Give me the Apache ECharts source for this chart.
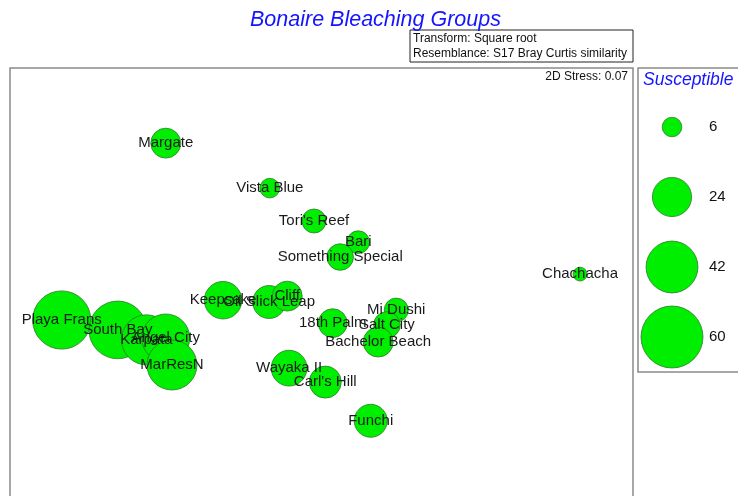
<!DOCTYPE html>
<html>
<head>
<meta charset="utf-8">
<style>
  html, body { margin: 0; padding: 0; background: #fff; }
  #chart { width: 738px; height: 496px; }
</style>
<script src="https://cdn.jsdelivr.net/npm/echarts@6/dist/echarts.min.js"></script>
</head>
<body>
<div id="chart"></div>
<script>
// MDS ordination, coordinates (0-100 frame units, y up)
const sites = ['Margate', 'Vista Blue', "Tori's Reef", 'Bari', 'Something Special', 'Chachacha',
  'Keepsake', 'Oil Slick Leap', 'Cliff', 'Playa Frans', 'South Bay', 'Karpata', 'Angel City',
  'MarResN', 'Wayaka II', "Carl's Hill", '18th Palm', 'Mi Dushi', 'Salt City', 'Bachelor Beach', 'Funchi'];
const mdsX = [25.0, 41.7, 48.8, 55.9, 53.0, 91.5, 34.2, 41.6, 44.5, 8.3, 17.3, 21.9, 25.0,
  26.0, 44.8, 50.6, 51.8, 62.0, 60.5, 59.1, 57.9];
const mdsY = [83.3, 73.3, 66.0, 61.3, 58.0, 54.2, 48.4, 48.0, 49.3, 44.0, 41.8, 39.6, 40.0,
  34.0, 33.3, 30.2, 43.3, 46.2, 42.9, 39.1, 21.6];
const susceptible = [14, 6, 9, 8, 11, 3, 22, 17, 14, 53, 52, 39, 36, 39, 20, 16, 13, 9, 11, 14, 17];

const legendValues = [6, 24, 42, 60];

const FONT = '"Liberation Sans", Arial, sans-serif';
const FILL = '#00ee00';
const EDGE = '#2f7a2f';
const FRAME = '#8a8a8a';
const bubble = v => Math.sqrt(v) * 8;

const points = sites.map((s, i) => [mdsX[i], mdsY[i], susceptible[i], s]);
// legend rows spaced evenly down the key box
const legendPts = legendValues.map((v, i) => [34, 59 + i * 70, v]);
const legendLbl = legendValues.map((v, i) => [71, 59 + i * 70, v]);

const chart = echarts.init(document.getElementById('chart'));
chart.setOption({
  animation: false,
  backgroundColor: '#fff',
  title: {
    text: 'Bonaire Bleaching Groups',
    left: 245,
    top: 4,
    textStyle: { color: '#1414ff', fontStyle: 'italic', fontWeight: 'normal', fontSize: 21.5, fontFamily: FONT }
  },
  grid: [
    // plot frame runs off the bottom of the picture
    { left: 10, top: 68, width: 623, height: 428, show: false },
    { left: 638, top: 68, width: 100, height: 304, show: false }
  ],
  xAxis: [
    { gridIndex: 0, type: 'value', min: 0, max: 100, show: false },
    { gridIndex: 1, type: 'value', min: 0, max: 100, show: false }
  ],
  yAxis: [
    { gridIndex: 0, type: 'value', min: 100 - 428 / 4.5, max: 100, show: false },
    { gridIndex: 1, type: 'value', min: 0, max: 304, inverse: true, show: false }
  ],
  graphic: [
    {
      type: 'rect', z: 0,
      shape: { x: 10, y: 68, width: 623, height: 460 },
      style: { fill: 'none', stroke: FRAME, lineWidth: 1.5 }
    },
    {
      type: 'rect', z: 0,
      shape: { x: 638, y: 68, width: 120, height: 304 },
      style: { fill: 'none', stroke: FRAME, lineWidth: 1.5 }
    },
    {
      type: 'rect',
      shape: { x: 410, y: 30, width: 223, height: 32 },
      style: { fill: '#fff', stroke: '#222', lineWidth: 1 }
    },
    {
      type: 'text', left: 413, top: 33,
      style: { text: 'Transform: Square root', fill: '#111', fontSize: 12, fontFamily: FONT }
    },
    {
      type: 'text', left: 413, top: 48,
      style: { text: 'Resemblance: S17 Bray Curtis similarity', fill: '#111', fontSize: 12, fontFamily: FONT }
    },
    {
      type: 'text', right: 110, top: 71,
      style: { text: '2D Stress: 0.07', fill: '#111', fontSize: 12, fontFamily: FONT }
    },
    {
      type: 'text', left: 643, top: 71, z: 10,
      style: { text: 'Susceptible', fill: '#1414ff', fontSize: 17.5, fontStyle: 'italic', fontFamily: FONT }
    }
  ],
  series: [
    {
      type: 'scatter',
      xAxisIndex: 0, yAxisIndex: 0,
      data: points,
      symbolSize: d => bubble(d[2]),
      itemStyle: { color: FILL, borderColor: EDGE, borderWidth: 0.8, opacity: 1 },
      label: {
        show: true, position: 'inside', offset: [0, 1.5],
        formatter: p => p.data[3],
        color: '#1a1a1a', fontSize: 15, fontFamily: FONT
      },
      labelLayout: { hideOverlap: false }
    },
    {
      type: 'scatter',
      xAxisIndex: 1, yAxisIndex: 1,
      data: legendPts,
      symbolSize: d => bubble(d[2]),
      itemStyle: { color: FILL, borderColor: EDGE, borderWidth: 0.8, opacity: 1 }
    },
    {
      type: 'scatter',
      xAxisIndex: 1, yAxisIndex: 1,
      data: legendLbl,
      symbolSize: 0,
      itemStyle: { opacity: 1 },
      label: {
        show: true, position: 'right', distance: 0,
        formatter: p => String(p.data[2]),
        color: '#111', fontSize: 15, fontFamily: FONT
      }
    }
  ]
});
</script>
</body>
</html>
